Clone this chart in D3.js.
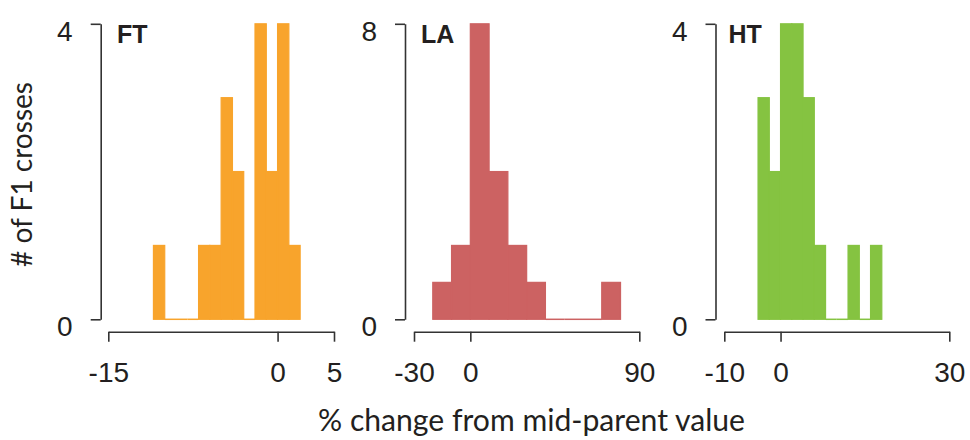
<!DOCTYPE html>
<html>
<head>
<meta charset="utf-8">
<script src="https://cdn.jsdelivr.net/npm/d3@7"></script>
<style>
  body { margin: 0; background: #fff; }
  svg text { fill: #231f20; }
</style>
</head>
<body>
<div id="chart"></div>
<script>
// histogram data (bin start, count per bin)
const ftStarts = [-11, -10, -9, -8, -7, -6, -5, -4, -3, -2, -1, 0, 1];
const ftCounts = [1, 0, 0, 0, 1, 1, 3, 2, 0, 4, 2, 4, 1];
const ftWidth = 1;

const laStarts = [-20, -10, 0, 10, 20, 30, 40, 50, 60, 70];
const laCounts = [1, 2, 8, 4, 2, 1, 0, 0, 0, 1];
const laWidth = 10;

const htStarts = [-4, -2, 0, 2, 4, 6, 8, 10, 12, 14, 16];
const htCounts = [3, 2, 4, 4, 3, 1, 0, 0, 1, 0, 1];
const htWidth = 2;

const panelNames = ["FT", "LA", "HT"];
const xTicks = [[-15, 0, 5], [-30, 0, 90], [-10, 0, 30]];
const yMax = [4, 8, 4];
const colors = ["#f8a42c", "#cc6262", "#85c341"];

const xTitle = "% change from mid-parent value";
const yTitle = "# of F1 crosses";

// layout
const width = 970;
const height = 440;
const yTop = 23.8;
const yBottom = 319.3;
const xAxisY = 331.7;
const tickFont = "Liberation Sans, Arial, sans-serif";
const titleFont = "Lato, sans-serif";
const panels = [
    { axisX: 100.7, range: [108.3, 334], labelX: 117 },
    { axisX: 405, range: [414, 639.3], labelX: 421 },
    { axisX: 715.5, range: [724.3, 949.3], labelX: 728.5 }
];
const data = [
    { starts: ftStarts, counts: ftCounts, w: ftWidth },
    { starts: laStarts, counts: laCounts, w: laWidth },
    { starts: htStarts, counts: htCounts, w: htWidth }
];

// plain hyphen for negatives, like the original
const fmt = v => String(v);

const svg = d3.select("#chart")
    .append("svg")
    .attr("width", width)
    .attr("height", height);

panels.forEach((p, i) => {
    const d = data[i];
    const ticks = xTicks[i];
    const x = d3.scaleLinear()
        .domain([ticks[0], ticks[ticks.length - 1]])
        .range(p.range);
    const y = d3.scaleLinear()
        .domain([0, yMax[i]])
        .range([yBottom, yTop]);

    const g = svg.append("g");
    const bins = d.starts.map((s, k) => ({ x0: s, x1: s + d.w, n: d.counts[k] }));

    // bars
    g.selectAll("rect.bar")
        .data(bins.filter(b => b.n > 0))
        .enter()
        .append("rect")
        .attr("class", "bar")
        .attr("x", b => x(b.x0))
        .attr("width", b => x(b.x1) - x(b.x0))
        .attr("y", b => y(b.n))
        .attr("height", b => y(0) - y(b.n))
        .style("fill", colors[i])
        .style("stroke", colors[i])
        .style("stroke-width", 1.2);

    // empty bins show as a flat line on the baseline
    g.selectAll("line.empty")
        .data(bins.filter(b => b.n === 0))
        .enter()
        .append("line")
        .attr("class", "empty")
        .attr("x1", b => x(b.x0))
        .attr("x2", b => x(b.x1))
        .attr("y1", y(0))
        .attr("y2", y(0))
        .style("stroke", colors[i])
        .style("stroke-width", 1.5);

    // y axis, only end ticks like R
    const yAxis = d3.axisLeft(y)
        .tickValues([0, yMax[i]])
        .tickSize(10)
        .tickSizeOuter(0)
        .tickPadding(18)
        .tickFormat(fmt);
    const ga = g.append("g")
        .attr("transform", "translate(" + p.axisX + ",0)")
        .call(yAxis);
    ga.selectAll("text")
        .attr("dy", null)
        .attr("y", 16.5)
        .attr("text-anchor", "end")
        .style("font-family", tickFont)
        .style("font-size", "28px");

    // x axis
    const xAxis = d3.axisBottom(x)
        .tickValues(ticks)
        .tickSize(10)
        .tickSizeOuter(0)
        .tickPadding(20)
        .tickFormat(fmt);
    const gx = g.append("g")
        .attr("transform", "translate(0," + xAxisY + ")")
        .call(xAxis);
    gx.selectAll("text")
        .attr("text-anchor", "middle")
        .style("font-family", tickFont)
        .style("font-size", "28px");

    g.selectAll(".domain, .tick line")
        .style("stroke", "#333")
        .style("stroke-width", 1.6);

    // panel label
    g.append("text")
        .attr("x", p.labelX)
        .attr("y", 43.3)
        .style("font-family", tickFont)
        .style("font-weight", "bold")
        .style("font-size", "25px")
        .text(panelNames[i]);
});

// size a title so it spans the same length as in the original
function fitText(sel, target) {
    const base = 25;
    sel.style("font-size", base + "px");
    const len = sel.node().getComputedTextLength();
    sel.style("font-size", (base * target / len) + "px");
}

const xt = svg.append("text")
    .attr("x", 531.5)
    .attr("y", 431)
    .attr("text-anchor", "middle")
    .style("font-family", titleFont)
    .text(xTitle);
fitText(xt, 427);

const yt = svg.append("text")
    .attr("transform", "translate(32,174.5) rotate(-90)")
    .attr("text-anchor", "middle")
    .style("font-family", titleFont)
    .text(yTitle);
fitText(yt, 185);
</script>
</body>
</html>
